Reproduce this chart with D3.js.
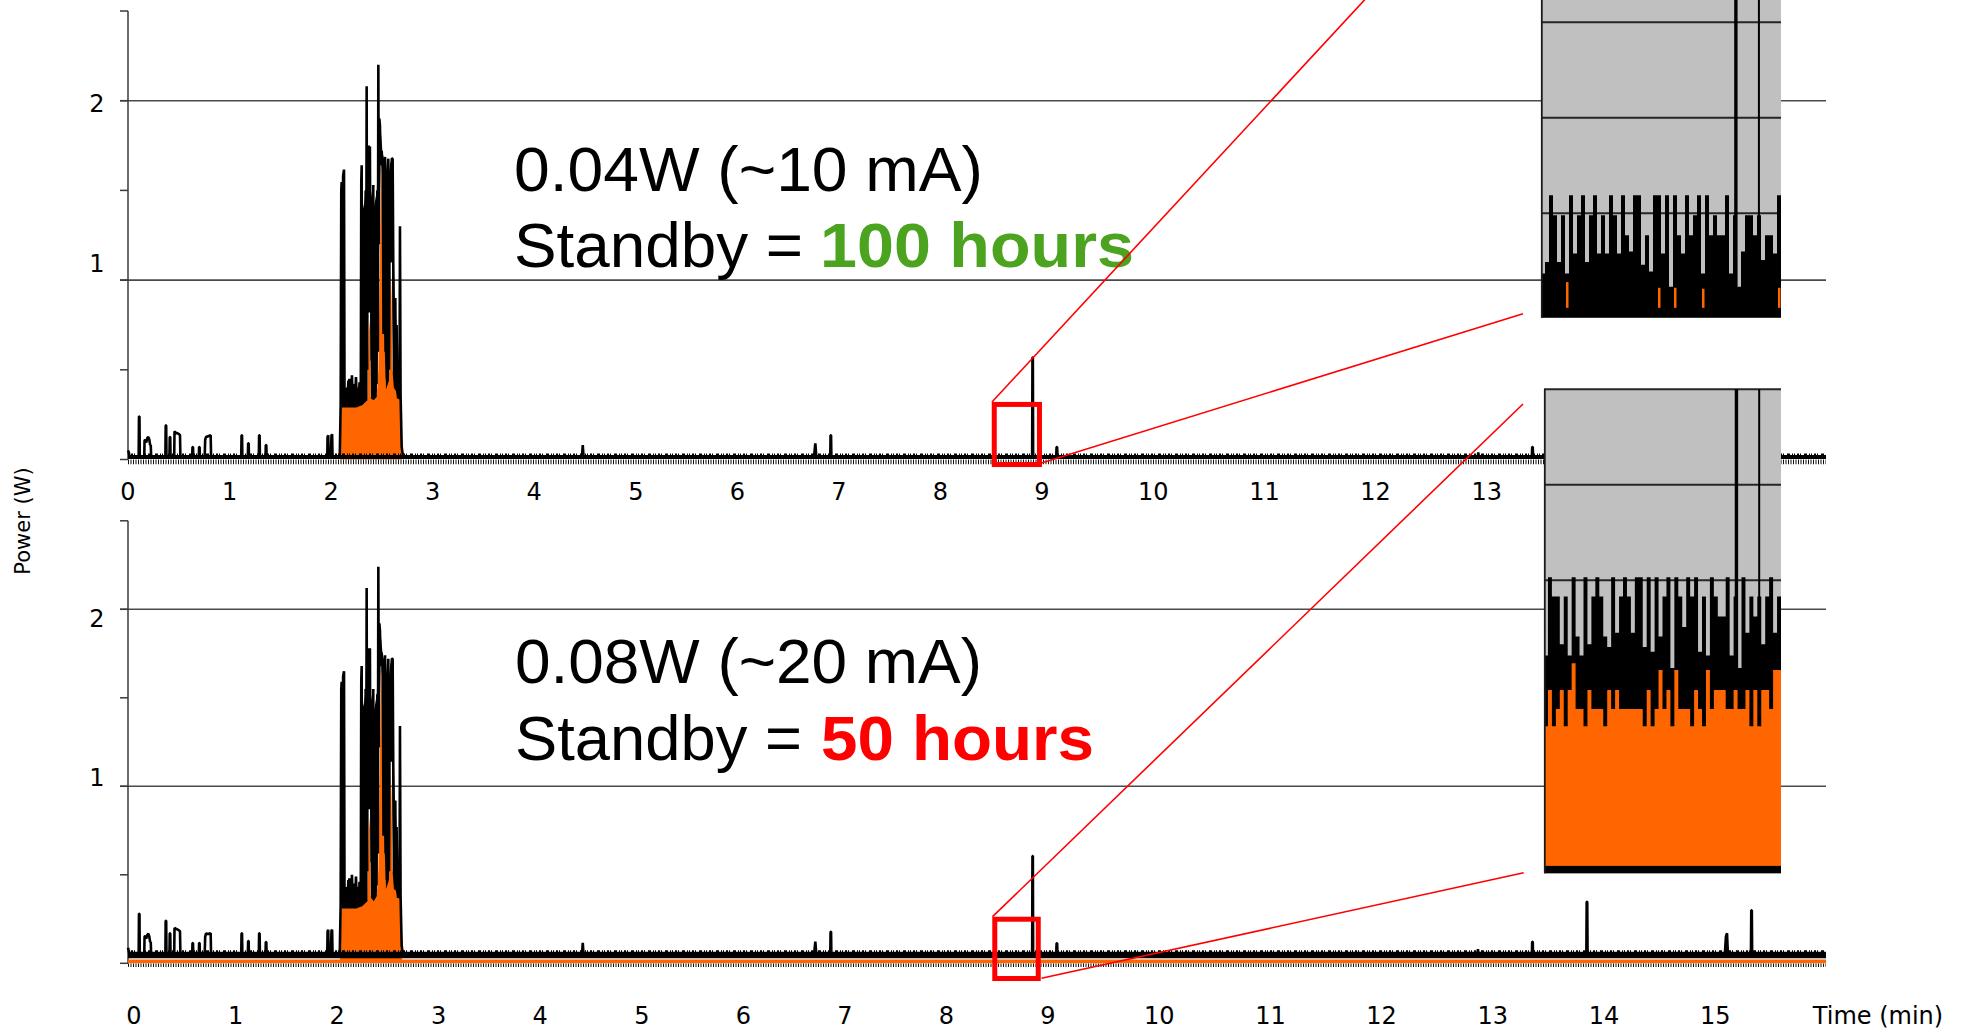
<!DOCTYPE html>
<html><head><meta charset="utf-8">
<script src="https://cdn.jsdelivr.net/npm/d3@7"></script>
<style>
html,body{margin:0;padding:0;background:#fff;}
svg{display:block;}
</style></head>
<body>
<svg id="chart" width="1966" height="1032"></svg>
<script>
// ================= DATA =================
const xTickValues = [0,1,2,3,4,5,6,7,8,9,10,11,12,13,14,15];
const yTickValues = [0,0.5,1,1.5,2,2.5];
const yGridValues = [1,2];
const yLabelValues = [1,2];
const xAxisTitle = "Time (min)";
const yAxisTitle = "Power (W)";

const captionTop = ["0.04W (~10 mA)", "Standby =", "100 hours"];
const captionBottom = ["0.08W (~20 mA)", "Standby =", "50 hours"];

// standby levels (W)
const topBaseline = 0.014;
const bottomBaseline = 0.047;

// raw power trace, top measurement [minutes, W]
const topTrace = [
[0.000,0.050],[0.008,0.040],[0.015,0.014],
[0.105,0.014],[0.108,0.240],[0.113,0.240],[0.116,0.014],
[0.160,0.014],[0.163,0.105],[0.170,0.110],[0.180,0.095],[0.190,0.120],[0.200,0.125],[0.210,0.110],[0.218,0.080],[0.224,0.080],[0.228,0.014],
[0.368,0.014],[0.371,0.190],[0.376,0.190],[0.379,0.014],
[0.408,0.014],[0.411,0.125],[0.416,0.125],[0.419,0.014],
[0.455,0.014],[0.458,0.157],[0.470,0.150],[0.490,0.145],[0.505,0.140],[0.512,0.135],[0.516,0.014],
[0.632,0.014],[0.635,0.070],[0.640,0.070],[0.643,0.014],
[0.697,0.014],[0.700,0.070],[0.705,0.070],[0.708,0.014],
[0.755,0.014],[0.760,0.110],[0.768,0.125],[0.790,0.130],[0.814,0.135],[0.818,0.014],
[1.115,0.014],[1.118,0.135],[1.123,0.135],[1.126,0.014],
[1.180,0.014],[1.183,0.090],[1.188,0.090],[1.191,0.014],
[1.288,0.014],[1.291,0.135],[1.296,0.135],[1.299,0.014],
[1.354,0.014],[1.357,0.080],[1.362,0.080],[1.365,0.014],
[1.962,0.014],[1.965,0.125],[1.972,0.135],[1.975,0.030],[1.998,0.030],[2.004,0.135],[2.010,0.140],[2.014,0.014],
[2.085,0.014],[2.094,0.30],[2.100,1.50],[2.104,1.547],[2.107,0.34],[2.112,0.31],[2.118,1.58],[2.127,1.616],[2.132,0.33],[2.140,0.31],[2.150,0.40],[2.160,0.31],[2.170,0.44],[2.175,0.33],[2.180,0.45],[2.190,0.34],[2.200,0.31],[2.205,0.47],[2.212,0.35],[2.220,0.31],[2.228,0.42],[2.235,0.32],[2.245,0.46],[2.252,0.33],[2.260,0.40],[2.270,0.30],[2.280,0.43],[2.285,0.33],
[2.292,0.31],[2.297,1.55],[2.301,1.64],[2.305,0.40],[2.310,1.20],[2.315,0.38],[2.320,1.40],[2.325,0.45],[2.330,1.10],[2.335,0.37],[2.340,1.50],[2.345,0.60],[2.350,2.08],[2.355,0.50],[2.360,1.60],[2.365,0.85],[2.370,1.75],[2.375,0.85],[2.382,1.745],[2.388,0.90],[2.395,1.45],[2.400,0.55],[2.405,1.30],[2.410,0.45],[2.415,1.53],[2.420,0.40],[2.428,1.20],[2.435,0.38],[2.440,1.10],[2.447,0.42],[2.455,1.50],[2.460,0.60],[2.465,2.20],[2.470,1.20],[2.475,1.90],[2.481,1.86],[2.487,1.66],[2.492,1.70],[2.498,1.72],[2.503,1.66],[2.510,1.60],[2.516,0.70],[2.522,1.65],[2.531,1.686],[2.537,0.60],[2.543,1.50],[2.550,0.45],[2.556,1.60],[2.563,1.677],[2.570,0.50],[2.577,1.55],[2.584,1.10],[2.590,1.60],[2.598,1.677],[2.606,1.677],[2.612,1.10],[2.619,0.74],[2.625,0.50],[2.632,0.90],[2.638,0.42],[2.645,0.75],[2.652,0.40],[2.660,0.34],[2.668,0.38],[2.674,0.40],[2.678,1.30],[2.684,0.36],[2.690,0.20],[2.695,0.07],[2.705,0.03],[2.717,0.014],
[4.470,0.014],[4.478,0.080],[4.486,0.014],
[6.755,0.014],[6.768,0.090],[6.778,0.014],
[6.915,0.014],[6.918,0.135],[6.923,0.135],[6.926,0.014],
[8.903,0.014],[8.906,0.568],[8.910,0.568],[8.913,0.014],
[9.128,0.014],[9.131,0.070],[9.136,0.070],[9.139,0.014],
[12.920,0.014],[12.923,0.040],[12.928,0.014],
[13.405,0.014],[13.408,0.070],[13.413,0.070],[13.416,0.014],
[16.05,0.014]
];
// dense-oscillation envelope of the raw trace during the burst [min, low W, high W]
const topBurstEnvelope = [
[2.107,0.29,0.37],[2.150,0.29,0.40],[2.200,0.29,0.42],[2.250,0.29,0.40],[2.290,0.30,0.40],
[2.298,0.30,1.50],[2.320,0.31,1.40],[2.340,0.32,1.50],[2.358,0.33,1.60],[2.363,0.82,1.70],[2.384,0.82,1.74],[2.392,0.34,1.50],[2.420,0.33,1.40],[2.450,0.35,1.50],[2.468,1.00,1.85],[2.485,1.64,1.86],[2.505,1.64,1.72],[2.518,0.80,1.68],[2.540,0.39,1.55],[2.570,0.44,1.60],[2.580,1.10,1.65],[2.600,1.10,1.67],[2.607,0.48,1.67],[2.618,0.40,0.74],[2.640,0.38,0.80],[2.660,0.34,0.45],[2.685,0.33,0.40]
];
// averaged power (orange), top measurement
const topOrange = [
[2.090,0],[2.095,0.10],[2.104,0.30],[2.130,0.30],[2.160,0.31],[2.200,0.30],[2.240,0.30],[2.280,0.31],[2.320,0.31],[2.355,0.33],[2.365,0.55],[2.375,0.78],[2.385,0.70],[2.390,0.35],[2.420,0.33],[2.450,0.36],[2.465,0.50],[2.480,1.10],[2.495,1.62],[2.505,1.62],[2.515,1.20],[2.525,0.70],[2.540,0.40],[2.570,0.45],[2.585,1.08],[2.595,0.90],[2.605,0.50],[2.630,0.40],[2.660,0.36],[2.685,0.34],[2.695,0.05],[2.700,0]
];

// raw power trace, bottom measurement
const bottomTrace = [
[0.000,0.088],[0.008,0.070],[0.015,0.047],
[0.105,0.047],[0.108,0.280],[0.113,0.280],[0.116,0.047],
[0.160,0.047],[0.163,0.150],[0.170,0.154],[0.180,0.140],[0.190,0.160],[0.200,0.168],[0.210,0.150],[0.218,0.120],[0.224,0.120],[0.228,0.047],
[0.368,0.047],[0.371,0.240],[0.376,0.240],[0.379,0.047],
[0.408,0.047],[0.411,0.170],[0.416,0.170],[0.419,0.047],
[0.455,0.047],[0.458,0.200],[0.470,0.195],[0.490,0.190],[0.505,0.185],[0.512,0.180],[0.516,0.047],
[0.632,0.047],[0.635,0.115],[0.640,0.115],[0.643,0.047],
[0.697,0.047],[0.700,0.115],[0.705,0.115],[0.708,0.047],
[0.755,0.047],[0.760,0.150],[0.768,0.168],[0.790,0.165],[0.814,0.170],[0.818,0.047],
[1.115,0.047],[1.118,0.170],[1.123,0.170],[1.126,0.047],
[1.180,0.047],[1.183,0.126],[1.188,0.126],[1.191,0.047],
[1.288,0.047],[1.291,0.170],[1.296,0.170],[1.299,0.047],
[1.354,0.047],[1.357,0.120],[1.362,0.120],[1.365,0.047],
[1.962,0.047],[1.965,0.180],[1.972,0.190],[1.975,0.070],[1.998,0.070],[2.004,0.185],[2.010,0.190],[2.014,0.047],
[2.085,0.047],[2.094,0.33],[2.100,1.55],[2.104,1.59],[2.107,0.36],[2.112,0.33],[2.118,1.62],[2.127,1.65],[2.132,0.35],[2.140,0.33],[2.150,0.43],[2.160,0.33],[2.170,0.47],[2.175,0.35],[2.180,0.48],[2.190,0.36],[2.200,0.33],[2.205,0.50],[2.212,0.37],[2.220,0.33],[2.228,0.45],[2.235,0.34],[2.245,0.49],[2.252,0.35],[2.260,0.43],[2.270,0.32],[2.280,0.46],[2.285,0.35],
[2.292,0.33],[2.297,1.60],[2.301,1.68],[2.305,0.42],[2.310,1.25],[2.315,0.40],[2.320,1.45],[2.325,0.47],[2.330,1.15],[2.335,0.40],[2.340,1.55],[2.345,0.62],[2.350,2.12],[2.355,0.52],[2.360,1.65],[2.365,0.90],[2.370,1.78],[2.375,0.90],[2.382,1.78],[2.388,0.92],[2.395,1.48],[2.400,0.57],[2.405,1.33],[2.410,0.47],[2.415,1.55],[2.420,0.42],[2.428,1.22],[2.435,0.40],[2.440,1.12],[2.447,0.44],[2.455,1.52],[2.460,0.62],[2.465,2.24],[2.470,1.22],[2.475,1.92],[2.481,1.88],[2.487,1.70],[2.492,1.72],[2.498,1.755],[2.503,1.70],[2.510,1.62],[2.516,0.72],[2.522,1.68],[2.531,1.74],[2.537,0.62],[2.543,1.52],[2.550,0.47],[2.556,1.62],[2.563,1.72],[2.570,0.52],[2.577,1.57],[2.584,1.14],[2.590,1.62],[2.598,1.72],[2.606,1.72],[2.612,1.12],[2.619,0.78],[2.625,0.52],[2.632,0.92],[2.638,0.44],[2.645,0.77],[2.652,0.42],[2.660,0.37],[2.668,0.40],[2.674,0.42],[2.678,1.34],[2.684,0.38],[2.690,0.22],[2.695,0.10],[2.705,0.06],[2.717,0.047],
[4.470,0.047],[4.478,0.116],[4.486,0.047],
[6.755,0.047],[6.768,0.122],[6.778,0.047],
[6.915,0.047],[6.918,0.178],[6.923,0.178],[6.926,0.047],
[8.903,0.047],[8.906,0.606],[8.910,0.606],[8.913,0.047],
[9.128,0.047],[9.131,0.113],[9.136,0.113],[9.139,0.047],
[12.915,0.047],[12.920,0.080],[12.926,0.047],
[13.405,0.047],[13.408,0.122],[13.413,0.122],[13.416,0.047],
[13.895,0.047],[13.898,0.348],[13.903,0.348],[13.906,0.047],
[15.140,0.047],[15.150,0.150],[15.160,0.170],[15.168,0.047],
[15.375,0.047],[15.378,0.300],[15.383,0.300],[15.386,0.047],
[16.05,0.047]
];
const bottomBurstEnvelope = [
[2.107,0.31,0.40],[2.150,0.31,0.43],[2.200,0.31,0.45],[2.250,0.31,0.43],[2.290,0.32,0.43],
[2.298,0.32,1.55],[2.320,0.33,1.45],[2.340,0.34,1.55],[2.358,0.35,1.65],[2.363,0.87,1.75],[2.384,0.87,1.78],[2.392,0.37,1.52],[2.420,0.35,1.42],[2.450,0.38,1.52],[2.468,1.04,1.88],[2.485,1.68,1.88],[2.505,1.68,1.76],[2.518,0.82,1.70],[2.540,0.42,1.57],[2.570,0.47,1.62],[2.580,1.14,1.68],[2.600,1.14,1.72],[2.607,0.51,1.72],[2.618,0.42,0.78],[2.640,0.41,0.82],[2.660,0.37,0.47],[2.685,0.36,0.42]
];
const bottomOrange = [
[0.000,0.022],[2.088,0.022],[2.095,0.12],[2.104,0.32],[2.130,0.32],[2.160,0.33],[2.200,0.32],[2.240,0.32],[2.280,0.33],[2.320,0.33],[2.355,0.36],[2.365,0.58],[2.375,0.83],[2.385,0.74],[2.390,0.38],[2.420,0.36],[2.450,0.39],[2.465,0.53],[2.480,1.14],[2.495,1.66],[2.505,1.66],[2.515,1.24],[2.525,0.74],[2.540,0.43],[2.570,0.48],[2.585,1.12],[2.595,0.94],[2.605,0.53],[2.630,0.43],[2.660,0.39],[2.685,0.37],[2.695,0.08],[2.700,0.022],[16.05,0.022]
];

// zoom window (red box) [t0, t1, v0, v1]
const zoomBoxTop = [8.53, 8.975, -0.028, 0.307];
const zoomBoxBottom = [8.535, 8.963, -0.086, 0.249];

// magnified view 8.5-9.0 min, column maxima (W) and averaged level (orange)
const insetWindow = [8.5, 9.0];
const insetSpikeTimes = [8.906, 8.954];
const insetTopHi = [0.0137,0.0149,0.0219,0.0198,0.0149,0.0198,0.0137,0.0219,0.0158,0.0198,
 0.0219,0.0149,0.0198,0.0219,0.0158,0.0198,0.0158,0.0219,0.0198,0.0158,
 0.0219,0.0177,0.0160,0.0219,0.0219,0.0146,0.0177,0.0139,0.0219,0.0219,
 0.0158,0.0219,0.0123,0.0219,0.0177,0.0158,0.0219,0.0177,0.0198,0.0219,
 0.0137,0.0219,0.0177,0.0198,0.0177,0.0177,0.0219,0.0137,0.0198,0.0123,
 0.0160,0.0198,0.0198,0.0177,0.0198,0.0151,0.0177,0.0177,0.0158,0.0219];
const insetTopOrange = [0,0,0,0,0,0,0.0128,0,0,0, 0,0,0,0,0,0,0,0,0,0,
 0,0,0,0,0,0,0,0,0,0.0122, 0,0,0,0.0122,0,0,0,0,0,0,
 0.0121,0,0,0,0,0,0,0,0,0, 0,0,0,0,0,0,0,0,0,0.0122];
const insetTopOrangeLow = 0.0101;
const insetBottomHi = [0.0221,0.0303,0.0283,0.0283,0.0233,0.0283,0.0221,0.0303,0.0241,0.0221,
 0.0303,0.0233,0.0283,0.0303,0.0283,0.0241,0.0230,0.0303,0.0245,0.0283,
 0.0303,0.0283,0.0245,0.0303,0.0303,0.0230,0.0303,0.0225,0.0303,0.0241,
 0.0283,0.0303,0.0208,0.0303,0.0283,0.0251,0.0303,0.0283,0.0303,0.0225,
 0.0283,0.0221,0.0303,0.0283,0.0262,0.0262,0.0303,0.0221,0.0283,0.0208,
 0.0303,0.0245,0.0283,0.0262,0.0283,0.0233,0.0283,0.0303,0.0245,0.0283];
const insetBottomOrange = [0.0147,0.0185,0.0147,0.0165,0.0185,0.0147,0.0185,0.0213,0.0165,0.0165,
 0.0147,0.0185,0.0165,0.0165,0.0165,0.0147,0.0185,0.0165,0.0185,0.0165,
 0.0165,0.0165,0.0165,0.0165,0.0165,0.0147,0.0185,0.0147,0.0165,0.0206,
 0.0165,0.0185,0.0147,0.0206,0.0165,0.0165,0.0165,0.0147,0.0185,0.0165,
 0.0147,0.0206,0.0165,0.0185,0.0185,0.0185,0.0165,0.0165,0.0185,0.0165,
 0.0165,0.0185,0.0147,0.0185,0.0147,0.0185,0.0185,0.0165,0.0206,0.0206];
const insetTopGrid = [0.02,0.03,0.04,0.05,0.06];
const insetBottomGrid = [0.03,0.04,0.05];
const insetTopSpikeFoot = 0.0123;
const insetBottomSpikeFoot = 0.0208;

// ================= LAYOUT / STYLE =================
const ORANGE = "#ff6600", GREEN = "#4ba320", RED = "#ff0000", INSETBG = "#c0c0c0";
const svg = d3.select("#chart");
const tEnd = 16.05;
const x = d3.scaleLinear().domain([0, 9, tEnd]).range([128, 1042, 1826]);

const panels = [
  { trace: topTrace, orange: topOrange, env: topBurstEnvelope, base: topBaseline, bandW: 4.2,
    y: d3.scaleLinear().domain([0, 2.5]).range([459.5, 11]),
    xLabelY: 491.6, xLabelDx: 0, yLabelDy: [-17, 2.5], combW: 4.6, combOff: 2.4,
    box: zoomBoxTop, caption: captionTop, accent: GREEN,
    capBase: [190.7, 266.7], capX: [514, 514, 820], capLen: [469, 289, 314] },
  { trace: bottomTrace, orange: bottomOrange, env: bottomBurstEnvelope, base: bottomBaseline, bandW: 6.4,
    y: d3.scaleLinear().domain([0, 2.5]).range([963.3, 520.8]),
    xLabelY: 1015.5, xLabelDx: 6, yLabelDy: [-9, 9], combW: 3.6, combOff: 1.9,
    box: zoomBoxBottom, caption: captionBottom, accent: RED,
    capBase: [683.3, 760], capX: [515, 515, 821], capLen: [467, 287, 273] }
];

const tickFont = "'DejaVu Sans', Verdana, sans-serif";
const capFont = "'Liberation Sans Narrow', 'Liberation Sans', Arial, sans-serif";

const gAxes = svg.append("g"), gData = svg.append("g"), gText = svg.append("g"),
      gAnno = svg.append("g"), gInset = svg.append("g");

panels.forEach(p => {
  const y = p.y;
  gAxes.selectAll(null).data(yGridValues).enter().append("line")
    .attr("x1", x(0) - 8).attr("x2", x(tEnd)).attr("y1", d => y(d)).attr("y2", d => y(d))
    .attr("stroke", "#4a4a4a").attr("stroke-width", 1.6);
  gAxes.append("line").attr("x1", x(0)).attr("x2", x(0))
    .attr("y1", y(0)).attr("y2", y(2.5)).attr("stroke", "#3a3a3a").attr("stroke-width", 1.5);
  gAxes.selectAll(null).data(yTickValues).enter().append("line")
    .attr("x1", x(0) - 8).attr("x2", x(0)).attr("y1", d => y(d)).attr("y2", d => y(d))
    .attr("stroke", "#3a3a3a").attr("stroke-width", 1.5);
  gAxes.selectAll(null).data(yLabelValues).enter().append("text")
    .attr("x", 97).attr("y", (d, i) => y(d) + p.yLabelDy[i]).attr("dy", "0.36em")
    .attr("text-anchor", "middle").attr("font-family", tickFont).attr("font-size", 24)
    .attr("fill", "#000").text(d => d);
  gAxes.selectAll(null).data(xTickValues).enter().append("text")
    .attr("x", d => x(d) + p.xLabelDx).attr("y", p.xLabelY).attr("dy", "0.36em")
    .attr("text-anchor", "middle").attr("font-family", tickFont).attr("font-size", 24)
    .attr("fill", "#000").text(d => d);

  // orange averaged area
  const area = d3.area().x(d => x(d[0])).y0(y(0)).y1(d => y(d[1]));
  gData.append("path").datum(p.orange).attr("d", area).attr("fill", ORANGE);

  // baseline standby band (dense noise)
  const flat = [[0, p.base], [tEnd, p.base]];
  const lineGen = d3.line().x(d => x(d[0])).y(d => y(d[1]));
  gData.append("path").datum(flat).attr("d", lineGen)
    .attr("stroke", "#000").attr("stroke-width", p.bandW).attr("fill", "none");
  gData.append("path").datum(flat)
    .attr("d", d3.line().x(d => x(d[0])).y(d => y(d[1]) - p.bandW / 2 - 0.7))
    .attr("stroke", "#000").attr("stroke-width", 1.6).attr("fill", "none")
    .attr("stroke-dasharray", "1 2 2 1 1 3 3 2 1 1");
  gData.append("path").datum([[0, 0], [tEnd, 0]])
    .attr("d", d3.line().x(d => x(d[0])).y(d => y(d[1]) + p.combOff))
    .attr("stroke", "#111").attr("stroke-width", p.combW).attr("fill", "none")
    .attr("stroke-dasharray", "1 1.5");

  // dense envelope of the burst
  gData.append("path").datum(p.env)
    .attr("d", d3.area().x(d => x(d[0])).y0(d => y(d[1])).y1(d => y(d[2])))
    .attr("fill", "#000");

  // raw trace
  gData.append("path").datum(p.trace).attr("d", lineGen)
    .attr("stroke", "#000").attr("stroke-width", 2.6).attr("fill", "none")
    .attr("stroke-linejoin", "bevel");

  // captions
  const cap = gText.append("g").attr("font-family", capFont).attr("font-size", 63);
  cap.append("text").attr("x", p.capX[0]).attr("y", p.capBase[0])
    .attr("textLength", p.capLen[0]).attr("lengthAdjust", "spacingAndGlyphs")
    .attr("fill", "#000").text(p.caption[0]);
  cap.append("text").attr("x", p.capX[1]).attr("y", p.capBase[1])
    .attr("textLength", p.capLen[1]).attr("lengthAdjust", "spacingAndGlyphs")
    .attr("fill", "#000").text(p.caption[1]);
  cap.append("text").attr("x", p.capX[2]).attr("y", p.capBase[1])
    .attr("textLength", p.capLen[2]).attr("lengthAdjust", "spacingAndGlyphs")
    .attr("font-weight", "bold").attr("fill", p.accent).text(p.caption[2]);

  // red zoom box
  const b = p.box;
  gAnno.append("rect").attr("x", x(b[0])).attr("y", y(b[3]))
    .attr("width", x(b[1]) - x(b[0])).attr("height", y(b[2]) - y(b[3]))
    .attr("fill", "none").attr("stroke", RED).attr("stroke-width", 5);
});

gAxes.append("text").attr("transform", "translate(22.6,521) rotate(-90)")
  .attr("text-anchor", "middle").attr("dy", "0.36em")
  .attr("font-family", tickFont).attr("font-size", 21).text(yAxisTitle);
gAxes.append("text").attr("x", 1878).attr("y", 1015.5).attr("dy", "0.36em")
  .attr("text-anchor", "middle").attr("font-family", tickFont).attr("font-size", 24).text(xAxisTitle);

// ---------- insets ----------
const insets = [
  { x0: 1541, x1: 1781, yTop: -170, yBot: 317.7,
    iy: d3.scaleLinear().domain([0, 0.06]).range([404.3, -168.7]),
    hi: insetTopHi, orange: insetTopOrange, orangeLow: insetTopOrangeLow,
    grid: insetTopGrid, foot: insetTopSpikeFoot, floorBand: false },
  { x0: 1544, x1: 1781, yTop: 389.3, yBot: 873.3,
    iy: d3.scaleLinear().domain([0, 0.05]).range([866.5, 389.3]),
    hi: insetBottomHi, orange: insetBottomOrange, orangeLow: 0,
    grid: insetBottomGrid, foot: insetBottomSpikeFoot, floorBand: true }
];

insets.forEach(s => {
  const g = gInset.append("g");
  const ix = d3.scaleLinear().domain(insetWindow).range([s.x0, s.x1]);
  const band = d3.scaleBand().domain(d3.range(s.hi.length)).range([s.x0, s.x1]);
  const floorY = s.floorBand ? s.iy(0) : s.yBot;
  const stepPts = arr => arr.map((v, i) => [band(i), v]).concat([[s.x1, arr[arr.length - 1]]]);
  g.append("rect").attr("x", s.x0).attr("y", s.yTop).attr("width", s.x1 - s.x0)
    .attr("height", s.yBot - s.yTop).attr("fill", INSETBG);
  g.selectAll(null).data(s.grid).enter().append("line")
    .attr("x1", s.x0).attr("x2", s.x1).attr("y1", d => s.iy(d)).attr("y2", d => s.iy(d))
    .attr("stroke", "#262626").attr("stroke-width", 2);
  g.append("path").datum(stepPts(s.hi))
    .attr("d", d3.area().curve(d3.curveStepAfter).x(d => d[0]).y0(floorY).y1(d => s.iy(d[1])))
    .attr("fill", "#000");
  if (s.floorBand) {
    g.append("path").datum(stepPts(s.orange))
      .attr("d", d3.area().curve(d3.curveStepAfter).x(d => d[0]).y0(s.iy(0)).y1(d => s.iy(d[1])))
      .attr("fill", ORANGE);
    g.append("rect").attr("x", s.x0).attr("y", s.iy(0) - 0.6).attr("width", s.x1 - s.x0)
      .attr("height", s.yBot - s.iy(0) + 0.6).attr("fill", "#000");
  } else {
    g.selectAll(null).data(s.orange.map((v, i) => [i, v]).filter(d => d[1] > 0)).enter().append("rect")
      .attr("x", d => band(d[0]) + 1).attr("width", band.bandwidth() - 1.5)
      .attr("y", d => s.iy(d[1])).attr("height", d => s.iy(s.orangeLow) - s.iy(d[1])).attr("fill", ORANGE);
  }
  g.selectAll(null).data(insetSpikeTimes).enter().append("line")
    .attr("x1", d => ix(d)).attr("x2", d => ix(d)).attr("y1", s.iy(s.foot)).attr("y2", s.yTop)
    .attr("stroke", "#000").attr("stroke-width", (d, i) => i === 0 ? 3.4 : 2);
  g.append("line").attr("x1", s.x0 + 0.8).attr("x2", s.x0 + 0.8).attr("y1", s.yTop).attr("y2", s.yBot)
    .attr("stroke", "#1a1a1a").attr("stroke-width", 1.8);
});

// connector lines from zoom boxes to insets
const connectors = [
  [[992, 402], [1522, -170]],
  [[1041.5, 463], [1523, 313.7]],
  [[992.5, 916.7], [1523, 404]],
  [[1041.5, 978.3], [1523.7, 872.7]]
];
gAnno.selectAll(null).data(connectors).enter().append("line")
  .attr("x1", d => d[0][0]).attr("y1", d => d[0][1]).attr("x2", d => d[1][0]).attr("y2", d => d[1][1])
  .attr("stroke", RED).attr("stroke-width", 1.6);
gAnno.raise();
gInset.raise();
</script>
</body></html>
